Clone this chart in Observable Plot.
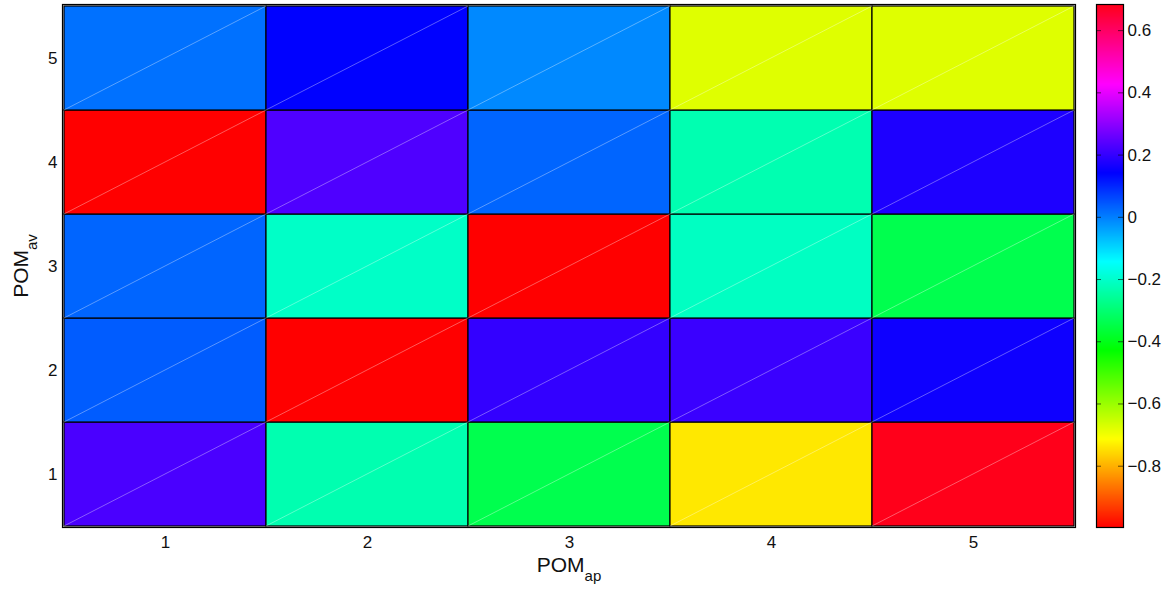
<!DOCTYPE html>
<html>
<head>
<meta charset="utf-8">
<script src="https://cdn.jsdelivr.net/npm/d3@7"></script>
<script src="https://cdn.jsdelivr.net/npm/@observablehq/plot@0.6"></script>
<style>
  html, body { margin: 0; padding: 0; background: #fff; }
  #wrap { position: relative; width: 1171px; height: 590px; font-family: "Liberation Sans", Arial, sans-serif; }
  #wrap svg { position: absolute; top: 0; overflow: visible; }
</style>
</head>
<body>
<div id="wrap"></div>
<script>
// Categories
const apCategories = [1, 2, 3, 4, 5];   // x (POM_ap)
const avCategories = [1, 2, 3, 4, 5];   // y (POM_av)
// Values, one array per POM_av row (columns = POM_ap 1..5)
const avRow1 = [0.225, -0.23, -0.34, -0.738, 0.684];
const avRow2 = [0.04, -0.997, 0.2, 0.208, 0.158];
const avRow3 = [0.03, -0.205, -0.997, -0.21, -0.34];
const avRow4 = [-0.997, 0.231, 0.03, -0.229, 0.175];
const avRow5 = [0.016, 0.142, -0.01, -0.676, -0.676];
// Colour bar
const colorDomain = [-0.997, 0.684];
const colorTicks = [-0.8, -0.6, -0.4, -0.2, 0, 0.2, 0.4, 0.6];

const rows = [avRow1, avRow2, avRow3, avRow4, avRow5];
const cells = [];
rows.forEach((r, i) => r.forEach((v, j) => cells.push({ap: apCategories[j], av: avCategories[i], v})));

// MATLAB-like hsv colormap
const hsvInterp = t => d3.hsl(354 * Math.max(0, Math.min(1, t)), 1, 0.5).toString();
const colorOpt = {type: "linear", domain: colorDomain, interpolate: () => hsvInterp};

const W = 1171, H = 590;
const font = "Liberation Sans, Arial, sans-serif";
const fmt = d => String(d).replace("-", "\u2212");

const main = Plot.plot({
  width: W, height: H,
  marginLeft: 62, marginRight: 96, marginTop: 4, marginBottom: 63,
  style: {fontFamily: font, fontSize: "17px", color: "#111", background: "transparent"},
  x: {type: "band", domain: apCategories, padding: 0},
  y: {type: "band", domain: [...avCategories].reverse(), padding: 0},
  color: colorOpt,
  marks: [
    Plot.cell(cells, {x: "ap", y: "av", fill: "v", stroke: "#000", strokeWidth: 1.2}),
    Plot.frame({stroke: "#000", strokeWidth: 1.2}),
    Plot.axisX({fontSize: 17, tickSize: 0, tickPadding: 8, label: null, fill: "#111"}),
    Plot.axisY({fontSize: 17, tickSize: 0, tickPadding: 5, label: null, fill: "#111"})
  ]
});
d3.select(main).selectAll("text").attr("font-size", 17).style("font-size", "17px").style("font-family", font);
d3.select(main).selectAll("g").filter(function() { return this.getAttribute("font-size"); }).attr("font-size", 17);

// faint diagonal artefact lines in each cell (as in the reference)
{
  const xs = main.scale("x"), ys = main.scale("y");
  const g = d3.select(main).append("g").attr("stroke", "#fff").attr("stroke-opacity", 0.35).attr("stroke-width", 1);
  for (const c of cells) {
    const x0 = xs.apply(c.ap), y0 = ys.apply(c.av);
    g.append("line").attr("x1", x0).attr("y1", y0 + ys.bandwidth).attr("x2", x0 + xs.bandwidth).attr("y2", y0);
  }
}

// axis labels with subscripts
{
  const s = d3.select(main);
  const tx = s.append("text").attr("x", 569).attr("y", 572).attr("text-anchor", "middle")
    .attr("font-family", font).attr("font-size", 21).attr("fill", "#111");
  tx.append("tspan").text("POM");
  tx.append("tspan").attr("dy", 9).attr("font-size", 15).text("ap");
  const ty = s.append("text").attr("transform", "translate(28,266) rotate(-90)").attr("text-anchor", "middle")
    .attr("font-family", font).attr("font-size", 21).attr("fill", "#111");
  ty.append("tspan").text("POM");
  ty.append("tspan").attr("dy", 9).attr("font-size", 15).text("av");
}

const bar = Plot.plot({
  width: 81, height: H,
  marginLeft: 6, marginRight: 48, marginTop: 4, marginBottom: 63,
  style: {fontFamily: font, fontSize: "17px", color: "#111", background: "transparent"},
  x: {domain: [0, 1], axis: null},
  y: {domain: colorDomain, axis: null},
  color: colorOpt,
  marks: [
    Plot.raster({fill: (x, y) => y, x1: 0, x2: 1, y1: colorDomain[0], y2: colorDomain[1], width: 1, height: 400, imageRendering: "auto"}),
    Plot.tickY(colorTicks, {y: d => d, stroke: "#000", strokeOpacity: 0.6, insetRight: 22}),
    Plot.tickY(colorTicks, {y: d => d, stroke: "#000", strokeOpacity: 0.6, insetLeft: 22}),
    Plot.frame({stroke: "#000", strokeWidth: 1.2}),
    Plot.axisY({anchor: "right", ticks: colorTicks, tickFormat: fmt, fontSize: 17, tickSize: 0, tickPadding: 4, label: null, fill: "#111"})
  ]
});
d3.select(bar).selectAll("text").attr("font-size", 17).style("font-size", "17px").style("font-family", font);
bar.style.left = "1090px";

main.style.left = "0px";
document.getElementById("wrap").append(main, bar);
</script>
</body>
</html>
